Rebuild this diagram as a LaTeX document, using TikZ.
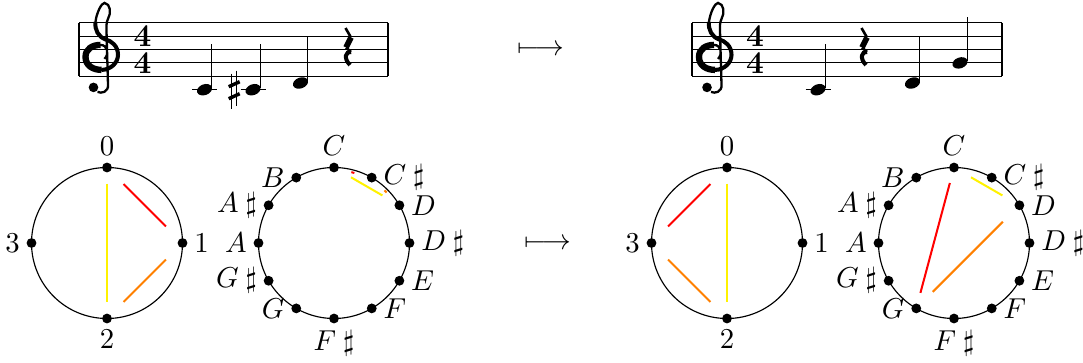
\documentclass[tikz,border=0pt]{standalone}
\usetikzlibrary{calc}

\begin{document}
\begin{tikzpicture}[x=0.0122cm,y=-0.0122cm,
    pt/.style={circle,fill,inner sep=0pt,minimum size=3.4pt},
    every label/.style={inner sep=2pt},
    chord/.style={line width=0.7pt},
    meter/.style={inner sep=0pt,align=center,font=\fontsize{11}{9.3}\selectfont\bfseries},
    gclef/.pic={
      \draw[line width=0.8pt] (3,-4) .. controls (8,-9) and (6,-18) .. (-1,-18)
        .. controls (-9,-18) and (-16,-14) .. (-16,-6)
        .. controls (-16,3) and (-8,7) .. (0,7)
        .. controls (9,7) and (16.5,0) .. (16.5,-8)
        .. controls (16.5,-17) and (10,-22) .. (4,-23.5)
        .. controls (-3,-26) and (-7,-33) .. (-6,-41)
        .. controls (-5,-50) and (0,-60) .. (3,-60)
        .. controls (9,-59) and (10,-50) .. (6.5,-44)
        .. controls (4.5,-40) and (5,-36) .. (5,-32)
        -- (6.5,22) .. controls (7,29) and (0,31) .. (-4,29);
      \draw[line width=1.4pt] (0,7) .. controls (9,7) and (16.5,0) .. (16.5,-8)
        .. controls (16.5,-17) and (10,-22) .. (4,-23.5)
        .. controls (-3,-26) and (-7,-33) .. (-6,-41);
      \draw[line width=2.2pt] (-1,-18) .. controls (-9,-18) and (-16,-14) .. (-16,-6)
        .. controls (-16,3) and (-8,7) .. (0,7);
      \fill (-8,24.5) circle [radius=4.8];
    },
    qrest/.pic={
      \draw[line width=0.9pt] (-2.5,-19) -- (3,-9.5);
      \draw[line width=2pt] (3,-9.5) -- (-2,0.5);
      \draw[line width=0.9pt] (-2,0.5) -- (3,5);
      \draw[line width=1.4pt] (3,5) .. controls (-2,4) and (-5,11) .. (2,18);
    },
    qnote/.pic={
      \fill (0,0) ellipse [x radius=7.8, y radius=5.4, rotate=20];
      \draw[line width=0.45pt] (7.2,-1.5) -- (7.2,-46);
    },
    ledger/.pic={\draw[line width=0.45pt] (-12.5,0) -- (12.5,0);},
    sharpsign/.pic={
      \draw[line width=0.4pt] (-2.5,-16) -- (-2.5,19) (2.5,-19) -- (2.5,16);
      \draw[line width=1.2pt] (-5.5,-3) -- (5.5,-8) (-5.5,9) -- (5.5,4);
    }]
  \useasboundingbox (0,0) rectangle (1083,362);

  % staves
  \foreach \k in {0,...,4} {
    \draw (79,22.7+13.4*\k) -- (388,22.7+13.4*\k);
    \draw (692,22.7+13.4*\k) -- (1002,22.7+13.4*\k);
  }
  \draw (79,22.7) -- (79,76.3) (388,22.7) -- (388,76.3);
  \draw (692,22.7) -- (692,76.3) (1002,22.7) -- (1002,76.3);

  \pic at (101.5,62.9) {gclef};
  \pic at (715,62.9) {gclef};
  \node[meter] (ta) at (142.5,49.5) {4\\4};
  \node[meter] (tb) at (755,49.5) {4\\4};

  % first bar: C, C sharp, D, rest
  \pic at (204.5,89.7) {ledger};
  \pic at (204.5,89.7) {qnote};
  \pic at (234.2,89.7) {sharpsign};
  \pic at (253,89.7) {ledger};
  \pic at (253,89.7) {qnote};
  \pic at (300.5,83) {qnote};
  \pic at (348,47) {qrest};

  % second bar: C, rest, D, G
  \pic at (818,89.7) {ledger};
  \pic at (818,89.7) {qnote};
  \pic at (864,47) {qrest};
  \pic at (912.5,83) {qnote};
  \pic at (960,62.9) {qnote};

  \node (m1) at (541,50) {$\longmapsto$};
  \node (m2) at (548,244) {$\longmapsto$};

  % mod 4 circles
  \draw (107,243) circle [radius=75.5];
  \node[pt,label=above:$0$] (p0) at (107,167.5) {};
  \node[pt,label=right:$1$] (p1) at (182.5,243) {};
  \node[pt,label=below:$2$] (p2) at (107,318.5) {};
  \node[pt,label=left:$3$] (p3) at (31.5,243) {};
  \draw[chord,red] ($(p0)!0.22!(p1)$) -- ($(p1)!0.22!(p0)$);
  \draw[chord,yellow] ($(p0)!0.106!(p2)$) -- ($(p2)!0.106!(p0)$);
  \draw[chord,orange] ($(p1)!0.22!(p2)$) -- ($(p2)!0.22!(p1)$);

  \draw (727,243) circle [radius=75.5];
  \node[pt,label=above:$0$] (q0) at (727,167.5) {};
  \node[pt,label=right:$1$] (q1) at (802.5,243) {};
  \node[pt,label=below:$2$] (q2) at (727,318.5) {};
  \node[pt,label=left:$3$] (q3) at (651.5,243) {};
  \draw[chord,red] ($(q3)!0.22!(q0)$) -- ($(q0)!0.22!(q3)$);
  \draw[chord,yellow] ($(q0)!0.106!(q2)$) -- ($(q2)!0.106!(q0)$);
  \draw[chord,orange] ($(q3)!0.22!(q2)$) -- ($(q2)!0.22!(q3)$);

  % pitch class circles
  \draw (334,243) circle [radius=75.5];
  \draw (954,243) circle [radius=75.5];
  \foreach \i/\n/\p in {0/{$C$}/above, 1/{$C$\hspace{2.4pt}$\sharp$}/right, 2/{$D$}/right,
      3/{$D$\hspace{2.4pt}$\sharp$}/right, 4/{$E$}/right, 5/{$F$}/right,
      6/{$F$\hspace{2.4pt}$\sharp$}/below, 7/{$G$}/left, 8/{$G$\hspace{2.4pt}$\sharp$}/left,
      9/{$A$}/left, 10/{$A$\hspace{2.4pt}$\sharp$}/left, 11/{$B$}/left} {
    \node[pt,label=\p:{\n}] (a\i) at ($(334,243)+(-90+30*\i:75.5)$) {};
    \node[pt,label=\p:{\n}] (b\i) at ($(954,243)+(-90+30*\i:75.5)$) {};
  }
  \draw[chord,red] ($(a0)!0.46!(a1)$) -- ($(a1)!0.46!(a0)$);
  \draw[chord,yellow] ($(a0)!0.26!(a2)$) -- ($(a2)!0.26!(a0)$);
  \draw[chord,orange] ($(a1)!0.46!(a2)$) -- ($(a2)!0.46!(a1)$);

  \draw[chord,red] ($(b0)!0.11!(b7)$) -- ($(b7)!0.11!(b0)$);
  \draw[chord,yellow] ($(b0)!0.26!(b2)$) -- ($(b2)!0.26!(b0)$);
  \draw[chord,orange] ($(b7)!0.16!(b2)$) -- ($(b2)!0.16!(b7)$);
\end{tikzpicture}
\end{document}
